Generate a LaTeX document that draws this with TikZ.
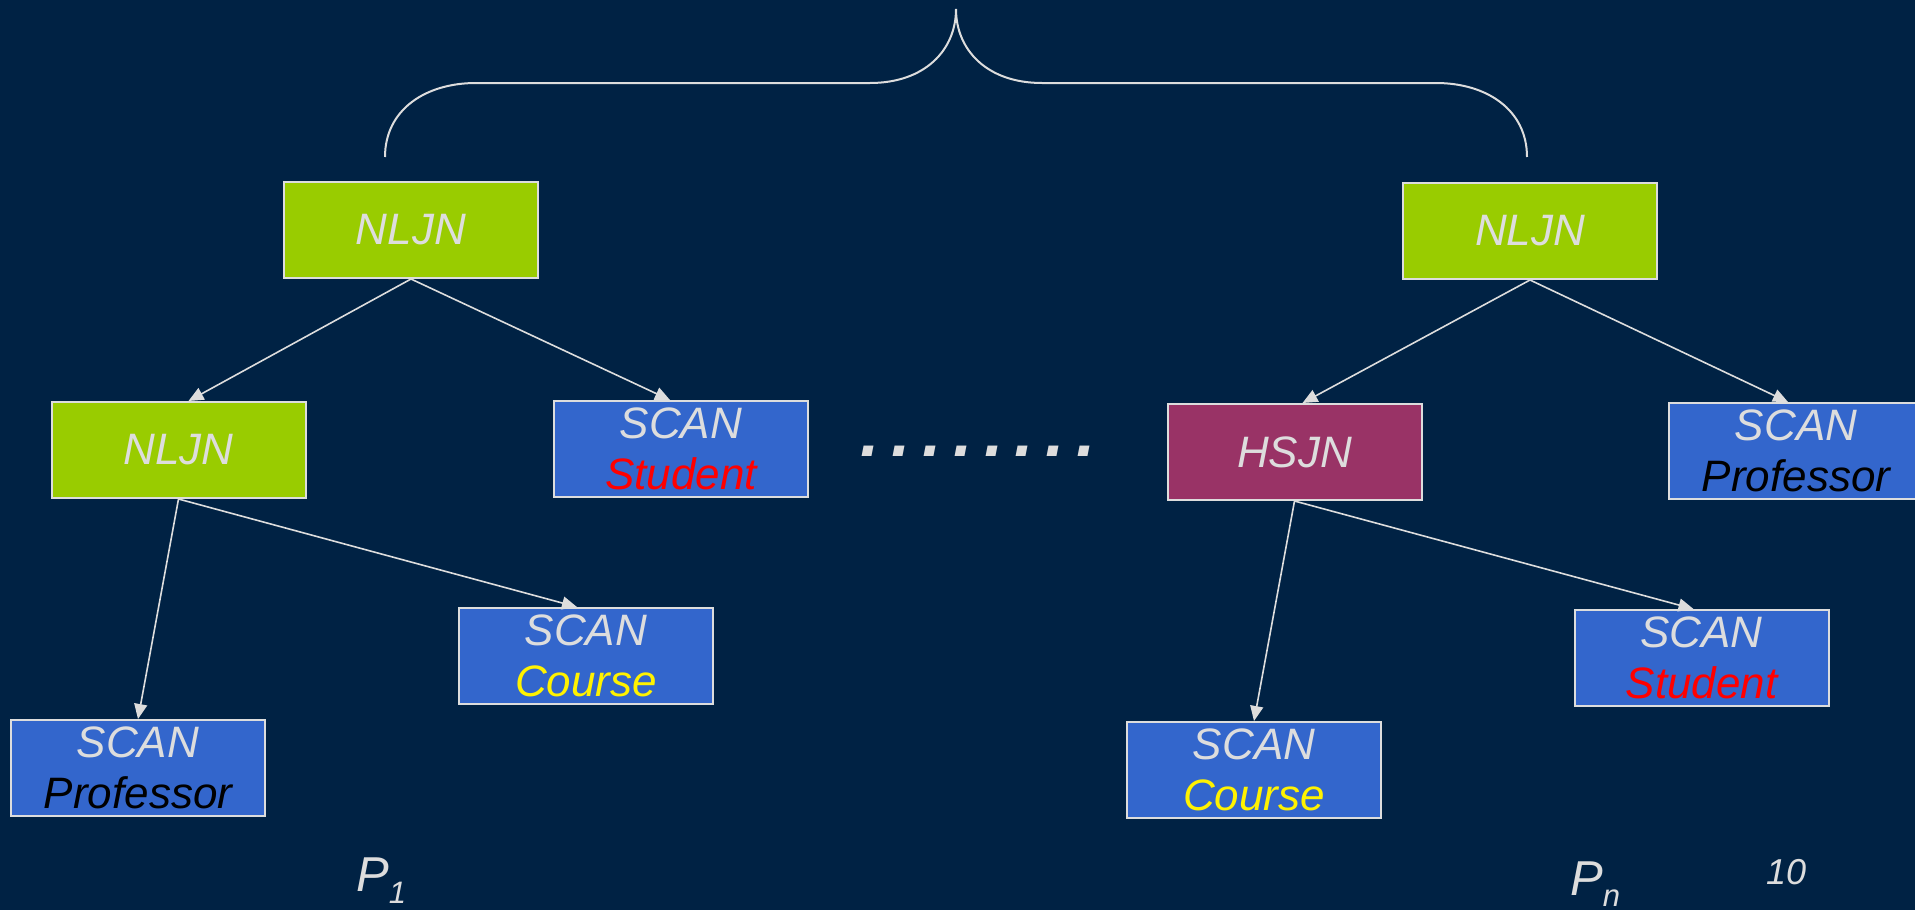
\documentclass[tikz,border=0pt]{standalone}
\usepackage{fontspec}
\setmainfont{Liberation Sans}
\usepackage{xcolor}
\usetikzlibrary{positioning}
\usetikzlibrary{arrows.meta}

\definecolor{slidebg}{RGB}{0,34,68}
\definecolor{joingreen}{RGB}{153,204,0}
\definecolor{scanblue}{RGB}{51,102,204}
\definecolor{hashred}{RGB}{153,51,102}
\definecolor{linegrey}{RGB}{221,221,221}

\newcommand{\gapdot}{\hspace{11.5pt}.}

\begin{document}
\begin{tikzpicture}[x=1pt, y=-1pt,
        opbox/.style={draw=linegrey, line width=2pt, minimum width=254pt, minimum height=96pt, inner sep=0pt, align=center, text=linegrey, font=\fontsize{44}{51}\selectfont\itshape},
        joinbox/.style={opbox, fill=joingreen},
        hashbox/.style={opbox, fill=hashred},
        scanbox/.style={opbox, fill=scanblue},
        flow/.style={draw=linegrey, line width=1.6pt, -{Triangle[length=15pt, width=13pt]}},
        plabel/.style={anchor=base west, inner sep=0pt, text=linegrey, font=\fontsize{49}{49}\selectfont\itshape}]
        \useasboundingbox (0,0) rectangle (1915,910);
        \clip (0,0) rectangle (1915,910);
        \fill[slidebg] (0,0) rectangle (1915,910);

        % plan P1
        \node[joinbox] (nljnA) at (411,230) {NLJN};
        \node[joinbox, below=122pt of nljnA, xshift=-232.5pt] (nljnC) {NLJN};
        \node[scanbox, below=121pt of nljnA, xshift=270pt] (scanStuA) {SCAN\\{\color{red}Student}};
        \node[scanbox, below=220pt of nljnC, xshift=-40.5pt] (scanProfA) {SCAN\\{\color{black}Professor}};
        \node[scanbox, below=108pt of nljnC, xshift=407.5pt] (scanCouA) {SCAN\\{\color{yellow}Course}};
        \draw[flow] (nljnA.south) -- ([xshift=10pt]nljnC.north);
        \draw[flow] (nljnA.south) -- ([xshift=-11pt]scanStuA.north);
        \draw[flow] (nljnC.south) -- (scanProfA.north);
        \draw[flow] (nljnC.south) -- ([xshift=-9pt]scanCouA.north);

        % plan Pn
        \node[joinbox] (nljnB) at (1530,231) {NLJN};
        \node[hashbox, below=123pt of nljnB, xshift=-235.5pt] (hsjn) {HSJN};
        \node[scanbox, below=122pt of nljnB, xshift=266pt] (scanProfB) {SCAN\\{\color{black}Professor}};
        \node[scanbox, below=220pt of hsjn, xshift=-40.5pt] (scanCouB) {SCAN\\{\color{yellow}Course}};
        \node[scanbox, below=108pt of hsjn, xshift=407pt] (scanStuB) {SCAN\\{\color{red}Student}};
        \draw[flow] (nljnB.south) -- ([xshift=8pt]hsjn.north);
        \draw[flow] (nljnB.south) -- ([xshift=-8pt]scanProfB.north);
        \draw[flow] (hsjn.south) -- (scanCouB.north);
        \draw[flow] (hsjn.south) -- ([xshift=-8pt]scanStuB.north);

        % brace over the plans
        \draw[linegrey, line width=2pt] (385,157) .. controls (385,110) and (425,83) .. (476,83) -- (870,83)
            .. controls (925,83) and (956,50) .. (956,9) .. controls (956,50) and (987,83) .. (1042,83)
            -- (1436,83) .. controls (1487,83) and (1527,110) .. (1527,157);

        \node[anchor=base west, inner sep=0pt, text=linegrey, font=\fontsize{70}{70}\selectfont\bfseries\itshape] (dots) at (860,456) {.\gapdot\gapdot\gapdot\gapdot\gapdot\gapdot\gapdot};

        \node[plabel] (pOne) at (356,891) {P\raisebox{-12pt}{\fontsize{31}{31}\selectfont 1}};
        \node[plabel] (pN) at (1570,895) {P\raisebox{-11pt}{\fontsize{31}{31}\selectfont n}};
        \node[plabel, font=\fontsize{36}{36}\selectfont\itshape] (pageNo) at (1766,884) {10};
    \end{tikzpicture}
\end{document}
